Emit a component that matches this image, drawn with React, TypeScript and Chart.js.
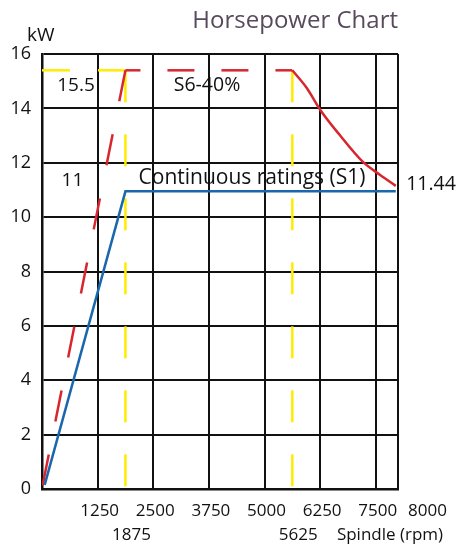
import { useEffect, useRef } from "react";
import { Chart, registerables } from "chart.js";

Chart.register(...registerables);

// ---- data ----
const yTickValues = [0, 2, 4, 6, 8, 10, 12, 14, 16];
const xGridValues = [0, 1250, 2500, 3750, 5000, 6250, 7500, 8000];
const xTickValues = [1250, 2500, 3750, 5000, 6250, 7500];
const xTickLabels = ["1250", "2500", "3750", "5000", "6250", "7500"];
const xEndLabel = "8000";
const xSubValues = [1875, 5625, 7820];
const xSubLabels = ["1875", "5625", "Spindle (rpm)"];

const s1Rpm = [60, 1875, 7950];
const s1Kw = [0.15, 10.95, 10.95];

const s6RiseRpm = [1875, 10];
const s6RiseKw = [15.4, 0.1];
const s6FlatRpm = [1875, 5625];
const s6FlatKw = [15.4, 15.4];
const s6CurveRpm = [5625, 5950, 6250, 6700, 7200, 7600, 7950];
const s6CurveKw = [15.4, 14.75, 13.95, 13.0, 12.05, 11.55, 11.15];

const guideHRpm = [0, 1875];
const guideHKw = [15.4, 15.4];
const guideV1Rpm = [1875, 1875];
const guideV2Rpm = [5625, 5625];
const guideVKw = [15.4, 0];

const noteTexts = ["15.5", "S6-40%", "11", "Continuous ratings (S1)", "11.44"];
const noteRpm = [764, 3708, 685, 4719, 8742];
const noteKw = [14.9, 14.9, 11.4, 11.51, 11.27];

const titleText = "Horsepower Chart";
const yUnit = "kW";

// ---- styles ----
const noteFontSizes = [19, 19.5, 19, 21, 19.5];
const pts = (xs: number[], ys: number[]) => xs.map((x, i) => ({ x, y: ys[i] }));

const FONT = "'Open Sans', 'Noto Sans', sans-serif";
const RED = "#d7262e";
const YELLOW = "#ffec00";
const BLUE = "#1a67ad";

const textPlugin = {
  id: "texts",
  afterDraw(chart: any) {
    const ctx = chart.ctx;
    const xs = chart.scales.x;
    const ys = chart.scales.y;
    const area = chart.chartArea;
    ctx.save();
    ctx.textBaseline = "alphabetic";
    // title
    ctx.fillStyle = "#584a5c";
    ctx.font = `24px ${FONT}`;
    ctx.textAlign = "right";
    ctx.fillText(titleText, area.right, 28);
    // unit
    ctx.fillStyle = "#111";
    ctx.font = `19px ${FONT}`;
    ctx.textAlign = "left";
    ctx.fillText(yUnit, area.left - 15, area.top - 13);
    // notes
    ctx.textAlign = "center";
    noteTexts.forEach((t, i) => {
      const sz = noteFontSizes[i];
      ctx.font = `${sz}px ${FONT}`;
      const px = xs.getPixelForValue(noteRpm[i]);
      const py = ys.getPixelForValue(noteKw[i]) + sz * 0.36;
      ctx.fillText(t, px, py);
    });
    // x labels
    ctx.font = `17px ${FONT}`;
    xTickValues.forEach((v, i) => {
      ctx.textAlign = "center";
      ctx.fillText(xTickLabels[i], xs.getPixelForValue(v) + 2, area.bottom + 27);
    });
    ctx.textAlign = "left";
    ctx.fillText(xEndLabel, area.right + 10, area.bottom + 27);
    xSubValues.forEach((v, i) => {
      ctx.textAlign = "center";
      const off = i < 2 ? 6 : 0;
      ctx.fillText(xSubLabels[i], xs.getPixelForValue(v) + off, area.bottom + 51);
    });
    ctx.restore();
  },
};

export default function App() {
  const ref = useRef<HTMLCanvasElement | null>(null);
  useEffect(() => {
    document.body.style.margin = "0";
    const canvas = ref.current!;
    const chart = new Chart(canvas, {
      type: "line",
      data: {
        datasets: [
          {
            data: pts(s1Rpm, s1Kw),
            borderColor: BLUE,
            borderWidth: 2.5,
            pointRadius: 0,
            tension: 0,
          },
          {
            data: pts(s6RiseRpm, s6RiseKw),
            borderColor: RED,
            borderWidth: 2.5,
            borderDash: [31.6, 33.7],
            pointRadius: 0,
          },
          {
            data: pts(s6FlatRpm, s6FlatKw),
            borderColor: RED,
            borderWidth: 2.5,
            borderDash: [27, 27],
            borderDashOffset: 12,
            pointRadius: 0,
          },
          {
            data: pts(s6CurveRpm, s6CurveKw),
            borderColor: RED,
            borderWidth: 2.5,
            pointRadius: 0,
            cubicInterpolationMode: "monotone",
          },
          {
            data: pts(guideV1Rpm, guideVKw),
            borderColor: YELLOW,
            borderWidth: 2.5,
            borderDash: [32, 32],
            pointRadius: 0,
          },
          {
            data: pts(guideV2Rpm, guideVKw),
            borderColor: YELLOW,
            borderWidth: 2.5,
            borderDash: [32, 32],
            pointRadius: 0,
          },
          {
            data: pts(guideHRpm, guideHKw),
            borderColor: YELLOW,
            borderWidth: 2.5,
            borderDash: [28, 28],
            pointRadius: 0,
          },
        ],
      },
      options: {
        responsive: false,
        animation: false,
        layout: { padding: { top: 54, right: 62, left: 0, bottom: 0 } },
        plugins: { legend: { display: false }, tooltip: { enabled: false }, title: { display: false } },
        scales: {
          x: {
            type: "linear",
            min: 0,
            max: 8000,
            afterBuildTicks: (scale: any) => {
              scale.ticks = xGridValues.map((v) => ({ value: v }));
            },
            afterFit: (scale: any) => {
              scale.height = 55;
            },
            ticks: { display: false },
            grid: { color: "#111", lineWidth: 2, drawTicks: false },
            border: { display: true, color: "#111", width: 2.5 },
          },
          y: {
            type: "linear",
            min: 0,
            max: 16,
            afterBuildTicks: (scale: any) => {
              scale.ticks = yTickValues.map((v) => ({ value: v }));
            },
            afterFit: (scale: any) => {
              scale.width = 42;
            },
            ticks: {
              color: "#111",
              font: { family: FONT, size: 18 },
              padding: 11,
            },
            grid: { color: "#111", lineWidth: 2, drawTicks: false },
            border: { display: true, color: "#111", width: 2.5 },
          },
        },
      },
      plugins: [textPlugin],
    } as any);
    return () => chart.destroy();
  }, []);
  return (
    <div style={{ width: 460, height: 544 }}>
      <canvas ref={ref} width={460} height={544} style={{ display: "block" }} />
    </div>
  );
}
